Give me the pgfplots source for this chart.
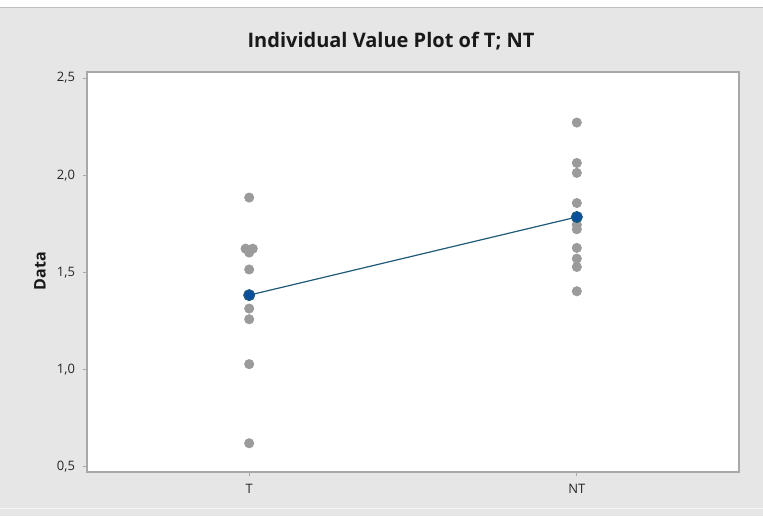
\documentclass[border=0pt]{standalone}
\usepackage{fontspec}
\setmainfont{Open Sans}
\usepackage{pgfplots}
\pgfplotsset{compat=1.18}
\definecolor{bggray}{HTML}{E6E6E6}
\definecolor{ptgray}{HTML}{9B9B9B}
\definecolor{meanblue}{HTML}{0A4F9E}
\definecolor{linecol}{HTML}{1F5A7A}
\definecolor{framegray}{HTML}{A8A8A8}
\begin{document}
\begin{tikzpicture}
% page is 763 x 516 px, 1 px = 0.5 pt, origin at the lower left corner of the axis box
\useasboundingbox (-43.5pt,-22pt) rectangle (338pt,236pt);
\fill[bggray] (-43.5pt,-22pt) rectangle (338pt,236pt);
\fill[white] (-43.5pt,232.5pt) rectangle (338pt,236pt);
\draw[line width=0.4pt, gray!50] (-43.5pt,232.5pt) -- (338pt,232.5pt);
\draw[line width=0.5pt, white!60!bggray] (-43.5pt,-18pt) -- (338pt,-18pt);
\begin{axis}[
    at={(0,0)}, anchor=south west,
    scale only axis,
    width=326pt, height=200pt,
    xmin=0.505, xmax=2.495,
    ymin=0.473, ymax=2.531,
    axis background/.style={fill=white},
    axis line style={framegray, line width=0.6pt},
    xtick={1,2}, xticklabels={T,NT},
    ytick={0.5,1.0,1.5,2.0,2.5},
    tick pos=left,
    tick align=outside,
    major tick length=2pt,
    tick style={framegray, line width=0.4pt},
    /pgf/number format/.cd, use comma, fixed, fixed zerofill, precision=1, assume math mode=true,
    /pgfplots/.cd,
    ticklabel style={font=\fontsize{6.5}{8}\selectfont, text=black!85},
    yticklabel style={xshift=-0.5pt},
    xticklabel style={yshift=-0.5pt},
    clip=false,
]
% individual values, T
\addplot[only marks, mark=*, mark size=2.3pt, ptgray, mark options={draw=none, fill=ptgray}] coordinates {
    (1,1.885) (0.989,1.622) (1.011,1.622) (1,1.602) (1,1.515)
    (1,1.314) (1,1.259) (1,1.028) (1,0.621)
};
% individual values, NT
\addplot[only marks, mark=*, mark size=2.3pt, ptgray, mark options={draw=none, fill=ptgray}] coordinates {
    (2,2.271) (2,2.063) (2,2.012) (2,1.857) (2,1.745) (2,1.722)
    (2,1.626) (2,1.571) (2,1.528) (2,1.403)
};
% means connected
\addplot[linecol, line width=0.6pt, mark=*, mark size=2.7pt, mark options={draw=none, fill=meanblue}] coordinates {
    (1,1.383) (2,1.785)
};
\end{axis}
\node[font=\fontsize{10}{12}\selectfont\bfseries, text=black!90] at (152pt,215.5pt) {Individual Value Plot of T; NT};
\node[font=\fontsize{8}{10}\selectfont\bfseries, text=black!90, rotate=90] at (-23.5pt,100.5pt) {Data};
\end{tikzpicture}
\end{document}
